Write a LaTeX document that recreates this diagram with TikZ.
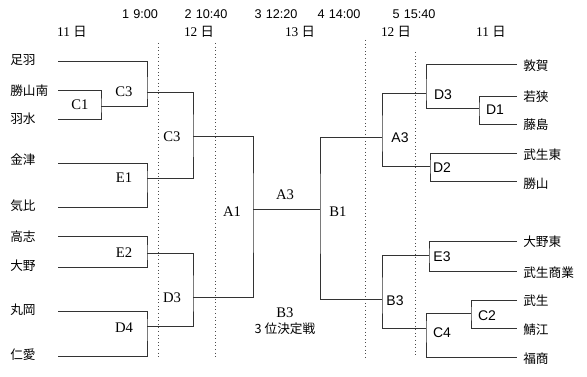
\documentclass[tikz,border=0pt]{standalone}
\usepackage{fontspec}
\setmainfont{Liberation Serif}
\setsansfont{Liberation Sans}
\newfontfamily\jpfont{Noto Sans CJK JP}
\usetikzlibrary{positioning}
\tikzset{
  team/.style={font=\jpfont\fontsize{9.5}{11}\selectfont,inner sep=0pt,anchor=west},
  lmatch/.style={font=\fontsize{11}{12}\selectfont,inner sep=0pt},
  rmatch/.style={font=\sffamily\fontsize{10.5}{12}\selectfont,inner sep=0pt},
  slot/.style={font=\sffamily\fontsize{9.5}{11}\selectfont,inner sep=0pt},
  day/.style={font=\fontsize{10}{11}\selectfont,inner sep=0pt},
  tie/.style={line width=0.7pt,draw=black!80},
  sep/.style={line width=0.7pt,dotted,draw=black!70},
}

\begin{document}
\begin{tikzpicture}[x=0.75pt,y=-0.75pt]
  \useasboundingbox (0,0) rectangle (587,377);
  % time slots and days
  \node[slot] (s1) at (140,14) {1\,\,9:00};
  \node[slot] (s2) at (206,14) {2\,\,10:40};
  \node[slot] (s3) at (276,14) {3\,\,12:20};
  \node[slot] (s4) at (339,14) {4\,\,14:00};
  \node[slot] (s5) at (414,14) {5\,\,15:40};
  \node[day] (dl1) at (72,32)  {11 {\jpfont 日}};
  \node[day] (dl2) at (199,32) {12 {\jpfont 日}};
  \node[day] (dc)  at (300,32) {13 {\jpfont 日}};
  \node[day] (dr2) at (396,32) {12 {\jpfont 日}};
  \node[day] (dr1) at (491,32) {11 {\jpfont 日}};
  \draw[sep] (158,43) -- (158,357);
  \draw[sep] (215,43) -- (215,357);
  \draw[sep] (365,40) -- (365,357);
  \draw[sep] (415,52) -- (415,357);
  % left teams
  \node[team] (asuwa)    at (10,60)  {足羽};
  \node[team] (katsuminami) at (10,91) {勝山南};
  \node[team] (usui)     at (10,119) {羽水};
  \node[team] (kanazu)   at (10,160) {金津};
  \node[team] (kehi)     at (10,206) {気比};
  \node[team] (koshi)    at (10,237) {高志};
  \node[team] (ono)      at (10,266) {大野};
  \node[team] (maruoka)  at (10,310) {丸岡};
  \node[team] (jinai)    at (10,355) {仁愛};
  % right teams
  \node[team] (tsuruga)  at (523,66)  {敦賀};
  \node[team] (wakasa)   at (523,97)  {若狭};
  \node[team] (fujishima) at (523,125) {藤島};
  \node[team] (takehigashi) at (523,155) {武生東};
  \node[team] (katsuyama) at (523,184) {勝山};
  \node[team] (onohigashi) at (523,242) {大野東};
  \node[team] (takeshogyo) at (523,273) {武生商業};
  \node[team] (takefu)   at (523,301) {武生};
  \node[team] (sabae)    at (523,330) {鯖江};
  \node[team] (fukusho)  at (523,359) {福商};
  % leaf ends
  \coordinate (l1) at (58,61);
  \coordinate (l2) at (58,90);
  \coordinate (l3) at (58,119);
  \coordinate (l4) at (58,163);
  \coordinate (l5) at (58,207);
  \coordinate (l6) at (58,236);
  \coordinate (l7) at (58,267);
  \coordinate (l8) at (58,311);
  \coordinate (l9) at (58,356);
  \coordinate (r1) at (517,64);
  \coordinate (r2) at (517,96);
  \coordinate (r3) at (517,124);
  \coordinate (r4) at (517,153);
  \coordinate (r5) at (517,181);
  \coordinate (r6) at (517,241);
  \coordinate (r7) at (517,271);
  \coordinate (r8) at (517,300);
  \coordinate (r9) at (517,328);
  \coordinate (r10) at (517,357);
  % joints
  \coordinate (c1)  at (101,106);
  \coordinate (c3a) at (147,92);
  \coordinate (e1)  at (147,178);
  \coordinate (c3b) at (193,136);
  \coordinate (e2)  at (147,253);
  \coordinate (d4)  at (147,326);
  \coordinate (d3)  at (193,297);
  \coordinate (a1)  at (253,209);
  \coordinate (b1)  at (320,209);
  \coordinate (a3r) at (382,137);
  \coordinate (b3r) at (382,299);
  \coordinate (d3r) at (426,93);
  \coordinate (d1r) at (479,108);
  \coordinate (d2r) at (430,166);
  \coordinate (e3r) at (429,255);
  \coordinate (c4r) at (426,328);
  \coordinate (c2r) at (471,313);
  % left bracket
  \draw[tie] (l2) -| (c1) |- (l3);
  \draw[tie] (l1) -| (c3a) |- (c1);
  \draw[tie] (l4) -| (e1) |- (l5);
  \draw[tie] (c3a) -| (c3b) |- (e1);
  \draw[tie] (l6) -| (e2) |- (l7);
  \draw[tie] (l8) -| (d4) |- (l9);
  \draw[tie] (e2) -| (d3) |- (d4);
  \draw[tie] (c3b) -| (a1) |- (d3);
  \draw[tie] (a1) -- (b1);
  % right bracket
  \draw[tie] (a3r) -| (b1) |- (b3r);
  \draw[tie] (d3r) -| (a3r) |- (d2r);
  \draw[tie] (r1) -| (d3r) |- (d1r);
  \draw[tie] (r2) -| (d1r) |- (r3);
  \draw[tie] (r4) -| (d2r) |- (r5);
  \draw[tie] (e3r) -| (b3r) |- (c4r);
  \draw[tie] (r6) -| (e3r) |- (r7);
  \draw[tie] (c2r) -| (c4r) |- (r10);
  \draw[tie] (r8) -| (c2r) |- (r9);
  % match labels
  \node[lmatch] (mc1)  at (80,105)  {C1};
  \node[lmatch] (mc3a) at (124,92)  {C3};
  \node[lmatch] (me1)  at (124,178) {E1};
  \node[lmatch] (mc3b) at (172,137) {C3};
  \node[lmatch] (me2)  at (124,253) {E2};
  \node[lmatch] (md4)  at (124,328) {D4};
  \node[lmatch] (md3)  at (172,298) {D3};
  \node[lmatch] (ma1)  at (232,212) {A1};
  \node[lmatch] (ma3)  at (285,195) {A3};
  \node[lmatch] (mb1)  at (338,212) {B1};
  \node[lmatch] (mb3)  at (285,313) {B3};
  \node[team,anchor=center] (third) at (285,329) {3 位決定戦};
  \node[rmatch] (ra3) at (400,138) {A3};
  \node[rmatch] (rd3) at (443,95)  {D3};
  \node[rmatch] (rd1) at (495,110) {D1};
  \node[rmatch] (rd2) at (442,168) {D2};
  \node[rmatch] (rb3) at (395,301) {B3};
  \node[rmatch] (re3) at (442,257) {E3};
  \node[rmatch] (rc4) at (442,333) {C4};
  \node[rmatch] (rc2) at (487,316) {C2};
\end{tikzpicture}
\end{document}
